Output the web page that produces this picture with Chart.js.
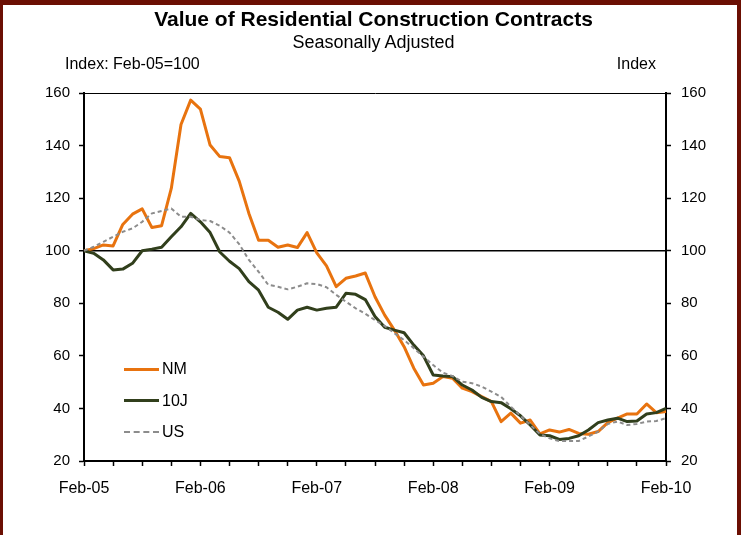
<!DOCTYPE html>
<html><head><meta charset="utf-8">
<script src="https://cdn.jsdelivr.net/npm/chart.js@4.4.0/dist/chart.umd.min.js"></script>
<style>
html,body{margin:0;padding:0;background:#fff;}
#wrap{position:relative;width:741px;height:535px;overflow:hidden;background:#fff;font-family:"Liberation Sans",Arial,sans-serif;color:#000;}
#frame{position:absolute;left:0;top:0;width:741px;height:535px;box-sizing:border-box;border-left:3px solid #6b0f03;border-right:4px solid #6b0f03;border-top:5px solid #6b0f03;pointer-events:none;z-index:3}
canvas{position:absolute;left:0;top:0}
.t{position:absolute;white-space:nowrap;line-height:1}
#legend{position:absolute;left:124px;top:360px;}
.li{position:absolute;left:0;height:18px;display:flex;align-items:center;font-size:16px;white-space:nowrap}
.sw{width:35px;height:0;margin-right:3px}
</style>
</head><body>
<div id="wrap">
<canvas id="c" width="741" height="535"></canvas>
<div class="t" id="title" style="left:3px;width:741px;text-align:center;top:8px;font-size:21px;font-weight:bold;">Value of Residential Construction Contracts</div>
<div class="t" id="sub" style="left:3px;width:741px;text-align:center;top:33px;font-size:18px;">Seasonally Adjusted</div>
<div class="t" style="left:65px;top:56px;font-size:16px;">Index: Feb-05=100</div>
<div class="t" style="right:85px;top:56px;font-size:16px;">Index</div>
<div id="legend"></div>
<div id="frame"></div>
</div>
<script>
const monthNames = ['Jan','Feb','Mar','Apr','May','Jun','Jul','Aug','Sep','Oct','Nov','Dec'];
const categories = [];
for (let i = 0; i <= 60; i++) {
  const mi = (1 + i) % 12;
  const yr = 5 + Math.floor((1 + i) / 12);
  categories.push(monthNames[mi] + '-' + String(yr).padStart(2, '0'));
}
const seriesNames = ['NM', '10J', 'US'];
const nmValues = [100,100.8,102.2,101.8,110,113.9,115.9,108.8,109.5,123.7,148,157.3,153.9,140.2,135.8,135.4,126.5,114.2,104,104,101.3,102.2,101.2,106.9,99.2,94.2,86.3,89.5,90.4,91.5,82.5,75.5,69.8,63.5,55.3,48.9,49.6,52.1,51.5,47.7,46.4,44.5,42.6,35,38.2,34.4,35.6,30.3,31.8,31,32,30.5,30.2,31.2,34.6,36.3,37.9,37.9,41.7,38.4,38.8];
const j10Values = [100,99,96.5,92.7,93,95.2,100,100.6,101.3,105.3,109.1,114.2,111,106.9,99.5,96,93.2,88.2,85,78.5,76.6,73.9,77.4,78.5,77.4,78.1,78.5,83.8,83.4,81.4,75,70.9,69.8,68.8,64.1,60,52.7,52.3,52.1,48.9,47,44.2,42.6,42.2,39.9,37.2,33.7,29.9,29.6,28.2,28.6,29.6,31.8,34.6,35.6,36.3,35,35.2,37.9,38.4,40];
const usValues = [100,101.5,103.4,105.3,107.2,108.5,111,114.2,115.1,116.1,112.9,112.9,111.7,111.3,109.5,106.9,102.5,96.5,92,87,86.3,85.3,86.3,87.6,87.3,86.1,83.2,80.6,78.1,76,73.6,71.4,68.6,66,62.9,59.7,56.5,53.6,52.3,50.2,49.6,48.3,46.4,44.4,40.7,37.2,33.7,30.3,28.6,27.6,27.6,27.6,29.3,31.2,34.1,35,33.7,34.1,35,35.2,36.3];
const xTickLabels = ['Feb-05','Feb-06','Feb-07','Feb-08','Feb-09','Feb-10'];
const yTicks = [20,40,60,80,100,120,140,160];

const colors = ['#e8730f', '#313f1c', '#8c8c8c'];
const family = '"Liberation Sans", Arial, sans-serif';

const datasets = [
  {label: seriesNames[0], data: nmValues, borderColor: colors[0], borderWidth: 3},
  {label: seriesNames[1], data: j10Values, borderColor: colors[1], borderWidth: 3},
  {label: seriesNames[2], data: usValues, borderColor: colors[2], borderWidth: 2, borderDash: [4,3]}
];
datasets.reverse();

const yCommon = {
  min: yTicks[0], max: yTicks[yTicks.length-1],
  afterBuildTicks: s => { s.ticks = yTicks.map(v => ({value: v})); },
  border: {display: true, color: '#000', width: 2}
};

new Chart(document.getElementById('c'), {
  type: 'line',
  data: {labels: categories, datasets},
  options: {
    responsive: false, animation: false, devicePixelRatio: 1,
    layout: {padding: {left: 10, right: 10, top: 93, bottom: 0}},
    plugins: {legend: {display: false}, title: {display: false}, tooltip: {enabled: false}},
    elements: {point: {radius: 0}, line: {tension: 0, borderJoinStyle: 'round'}},
    scales: {
      x: {
        type: 'category', offset: false,
        grid: {drawOnChartArea: false, drawTicks: true, tickLength: 5, tickWidth: 1.5,
               tickColor: c => (c.index % 3 === 0 ? '#000' : 'rgba(0,0,0,0)')},
        border: {display: true, color: '#000', width: 2},
        ticks: {autoSkip: false, maxRotation: 0, minRotation: 0, padding: 13, color: '#000',
                font: {size: 16, family},
                callback: (v, i) => (xTickLabels.includes(categories[i]) ? categories[i] : '')},
        afterFit: s => { s.height = 74; }
      },
      y: Object.assign({}, yCommon, {
        position: 'left',
        ticks: {color: '#000', font: {size: 15, family}, padding: 9},
        grid: {drawOnChartArea: true, drawTicks: true, tickLength: 5, tickWidth: 1.5, tickColor: '#000',
               color: c => (c.tick && (c.tick.value === 100 || c.tick.value === 160) ? '#000' : 'rgba(0,0,0,0)'),
               lineWidth: c => (c.tick && c.tick.value === 100 ? 1.5 : 1)},
        afterFit: s => { s.width = 74; }
      }),
      y2: Object.assign({}, yCommon, {
        position: 'right',
        grid: {drawOnChartArea: false, drawTicks: true, tickLength: 5, tickWidth: 1.5, tickColor: '#000'},
        ticks: {color: '#000', font: {size: 15, family}, padding: 10},
        afterFit: s => { s.width = 65; }
      })
    }
  }
});

// HTML legend built from series
const legend = document.getElementById('legend');
const legendOrder = [0,1,2];
legendOrder.forEach((k, idx) => {
  const d = document.createElement('div');
  d.className = 'li';
  d.style.top = (idx * 31.5) + 'px';
  const sw = document.createElement('span');
  sw.className = 'sw';
  sw.style.borderTop = (k === 2 ? '2px dashed ' : '3px solid ') + colors[k];
  d.appendChild(sw);
  const tx = document.createElement('span');
  tx.textContent = seriesNames[k];
  d.appendChild(tx);
  legend.appendChild(d);
});
</script>
</body></html>
